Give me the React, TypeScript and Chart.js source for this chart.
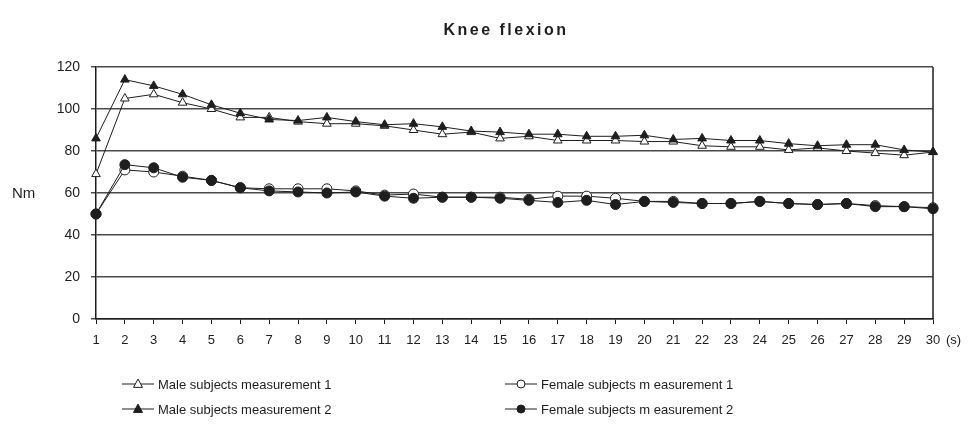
import React, { useEffect, useRef } from "react";
import { Chart, registerables } from "chart.js";

Chart.register(...registerables);

const xLabels = ["1","2","3","4","5","6","7","8","9","10","11","12","13","14","15","16","17","18","19","20","21","22","23","24","25","26","27","28","29","30"];

const maleM1 = [69, 105, 107, 103, 100, 96, 96, 94, 93, 93, 92, 90, 88, 89, 86, 87, 85, 85, 85, 84.5, 84.5, 82.5, 82, 82, 80.5, 81.5, 80, 79, 78, 79.5];
const maleM2 = [86, 114, 111, 107, 102, 98, 95, 94.5, 96, 94, 92.5, 93, 91.5, 89.5, 89, 88, 88, 87, 87, 87.5, 85.5, 86, 85, 85, 83.5, 82.5, 83, 83, 80.5, 79.5];
const femaleM1 = [50, 71, 70, 68, 66, 62.5, 62, 62, 62, 61, 59, 59.5, 58, 58, 58, 57, 58.5, 58.5, 57.5, 56, 56, 55, 55, 56, 55, 54.5, 55, 54, 53.5, 53];
const femaleM2 = [50, 73.5, 72, 67.5, 66, 62.5, 61, 60.5, 60, 60.5, 58.5, 57.5, 58, 58, 57.5, 56.5, 55.5, 56.5, 54.5, 56, 55.5, 55, 55, 56, 55, 54.5, 55, 53.5, 53.5, 52.5];

const seriesNames = [
  "Male subjects measurement 1",
  "Female subjects m easurement 1",
  "Male subjects measurement 2",
  "Female subjects m easurement 2",
];
const titleText = "Knee flexion";
const yTitle = "Nm";
const xUnit = "(s)";

const INK = "#1e1e1e";
const FONT = "'Liberation Sans', Arial, sans-serif";

function drawMarker(ctx: CanvasRenderingContext2D, kind: string, x: number, y: number, r: number, fill: string) {
  ctx.beginPath();
  if (kind === "triangle") {
    ctx.moveTo(x, y - r * 1.1);
    ctx.lineTo(x + r, y + r * 0.75);
    ctx.lineTo(x - r, y + r * 0.75);
    ctx.closePath();
  } else {
    ctx.arc(x, y, r, 0, Math.PI * 2);
  }
  ctx.fillStyle = fill;
  ctx.fill();
  ctx.lineWidth = 1;
  ctx.strokeStyle = INK;
  ctx.stroke();
}

const decorPlugin = {
  id: "decor",
  afterDraw(chart: any) {
    const ctx: CanvasRenderingContext2D = chart.ctx;
    const ca = chart.chartArea;
    ctx.save();
    ctx.strokeStyle = INK;
    ctx.lineWidth = 1.5;
    ctx.beginPath();
    ctx.moveTo(ca.right, ca.top);
    ctx.lineTo(ca.right, ca.bottom);
    ctx.stroke();

    ctx.fillStyle = INK;
    ctx.textBaseline = "middle";
    ctx.textAlign = "center";
    ctx.font = `bold 16px ${FONT}`;
    (ctx as any).letterSpacing = "2.5px";
    ctx.fillText(titleText, 498, 23);
    (ctx as any).letterSpacing = "0px";

    ctx.textAlign = "left";
    ctx.font = `15px ${FONT}`;
    ctx.fillText(yTitle, 4, 186);

    ctx.font = `13px ${FONT}`;
    ctx.fillText(xUnit, 938, 332);

    const items = [
      { name: seriesNames[0], kind: "triangle", fill: "#ffffff", x: 114, y: 376 },
      { name: seriesNames[1], kind: "circle", fill: "#ffffff", x: 497, y: 376 },
      { name: seriesNames[2], kind: "triangle", fill: INK, x: 114, y: 401 },
      { name: seriesNames[3], kind: "circle", fill: INK, x: 497, y: 401 },
    ];
    ctx.font = `13px ${FONT}`;
    for (const it of items) {
      ctx.strokeStyle = INK;
      ctx.lineWidth = 1;
      ctx.beginPath();
      ctx.moveTo(it.x, it.y);
      ctx.lineTo(it.x + 32, it.y);
      ctx.stroke();
      drawMarker(ctx, it.kind, it.x + 16, it.y, it.kind === "triangle" ? 4.5 : 4, it.fill);
      ctx.fillStyle = INK;
      ctx.textAlign = "left";
      ctx.fillText(it.name, it.x + 36, it.y + 1);
    }
    ctx.restore();
  },
};

export default function App() {
  const ref = useRef<HTMLCanvasElement | null>(null);
  useEffect(() => {
    if (!ref.current) return;
    const mk = (label: string, data: number[], style: string, fill: string, order: number) => ({
      label,
      data,
      borderColor: INK,
      borderWidth: 1,
      pointStyle: style,
      pointRadius: 5,
      pointBackgroundColor: fill,
      pointBorderColor: INK,
      pointBorderWidth: 1,
      fill: false,
      tension: 0,
      order,
    });
    const chart = new Chart(ref.current, {
      type: "line",
      data: {
        labels: xLabels,
        datasets: [
          mk(seriesNames[0], maleM1, "triangle", "#ffffff", 2),
          mk(seriesNames[2], maleM2, "triangle", INK, 1),
          mk(seriesNames[1], femaleM1, "circle", "#ffffff", 4),
          mk(seriesNames[3], femaleM2, "circle", INK, 3),
        ],
      },
      options: {
        animation: false,
        responsive: true,
        maintainAspectRatio: false,
        layout: { padding: { top: 59, right: 39, bottom: 0, left: 0 } },
        plugins: {
          legend: { display: false },
          title: { display: false },
          tooltip: { enabled: false },
        },
        scales: {
          x: {
            type: "category",
            offset: false,
            grid: { display: true, drawOnChartArea: false, drawTicks: true, tickLength: 5, color: INK, lineWidth: 1, offset: false },
            border: { display: true, color: INK, width: 1.5 },
            ticks: { color: INK, font: { family: FONT, size: 13 }, padding: 9, autoSkip: false, maxRotation: 0 },
            afterFit: (s: any) => { s.height = 112; },
          },
          y: {
            min: 0,
            max: 120,
            grid: { display: true, drawOnChartArea: true, drawTicks: true, tickLength: 5, color: "#4a4a4a", lineWidth: 1.5 },
            border: { display: true, color: INK, width: 1.5 },
            ticks: { stepSize: 20, color: INK, font: { family: FONT, size: 14 }, padding: 11 },
            afterFit: (s: any) => { s.width = 88; },
          },
        },
      },
      plugins: [decorPlugin],
    } as any);
    return () => chart.destroy();
  }, []);
  return (
    <div style={{ width: 964, height: 423, position: "relative" }}>
      <canvas ref={ref} />
    </div>
  );
}
